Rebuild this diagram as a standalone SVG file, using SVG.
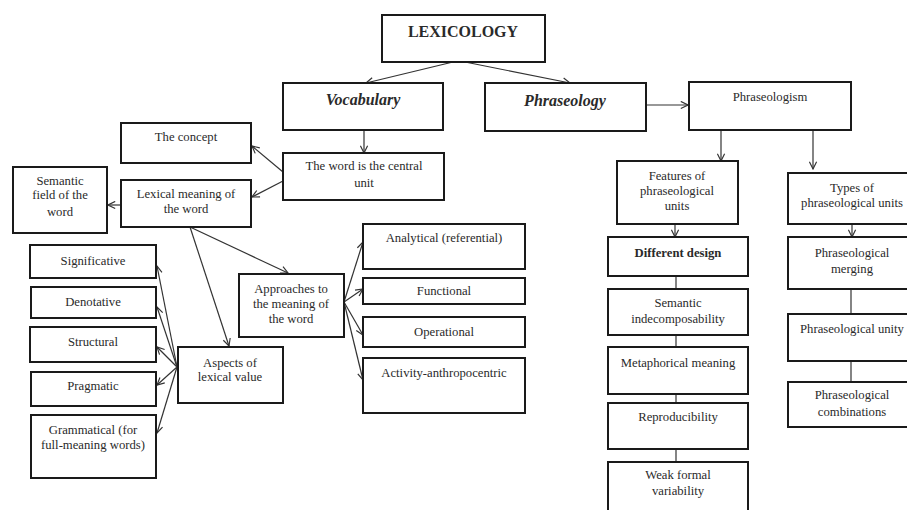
<svg xmlns="http://www.w3.org/2000/svg" width="907" height="510" viewBox="0 0 907 510">
<defs>
<style>
.b{fill:#fff;stroke:#1a1a1a;stroke-width:2}
text{font-family:"Liberation Serif","Times New Roman",serif;font-size:12.7px;fill:#2a2a2a;text-anchor:middle}
.t{font-size:16px;font-weight:bold}
.v{font-size:16px;font-weight:bold;font-style:italic}
.bd{font-weight:bold}
.c line{stroke:#333;stroke-width:1.2}
.a{marker-end:url(#ah)}
</style>
<marker id="ah" viewBox="0 0 10 10" refX="9" refY="5" markerWidth="9" markerHeight="9" markerUnits="userSpaceOnUse" orient="auto">
<path d="M1,1 L9,5 L1,9" fill="none" stroke="#333" stroke-width="1.3"/>
</marker>
</defs>
<rect width="907" height="510" fill="#fff"/>
<g class="c">
<line class="a" x1="453" y1="62" x2="366" y2="83"/>
<line class="a" x1="465" y1="62" x2="570" y2="83"/>
<line class="a" x1="364" y1="130" x2="364" y2="153"/>
<line class="a" x1="283" y1="172" x2="252" y2="146"/>
<line class="a" x1="283" y1="181" x2="252" y2="197"/>
<line class="a" x1="121" y1="205" x2="108" y2="205"/>
<line class="a" x1="190" y1="227" x2="288" y2="273"/>
<line class="a" x1="190" y1="227" x2="229" y2="346"/>
<line class="a" x1="177" y1="367" x2="157" y2="266"/>
<line class="a" x1="177" y1="367" x2="157" y2="307"/>
<line class="a" x1="177" y1="367" x2="157" y2="347"/>
<line class="a" x1="177" y1="367" x2="157" y2="385"/>
<line class="a" x1="177" y1="367" x2="157" y2="433"/>
<line class="a" x1="344" y1="302" x2="363" y2="242"/>
<line class="a" x1="344" y1="302" x2="363" y2="289"/>
<line class="a" x1="344" y1="302" x2="363" y2="335"/>
<line class="a" x1="344" y1="302" x2="363" y2="380"/>
<line class="a" x1="646" y1="105" x2="688" y2="105"/>
<line class="a" x1="721" y1="130" x2="721" y2="161"/>
<line class="a" x1="813" y1="130" x2="813" y2="169"/>
<line class="a" x1="675" y1="224" x2="675" y2="237"/>
<line class="a" x1="852" y1="224" x2="852" y2="237"/>
<line x1="676" y1="276" x2="676" y2="289"/>
<line x1="676" y1="335" x2="676" y2="347"/>
<line x1="676" y1="394" x2="676" y2="403"/>
<line x1="676" y1="449" x2="676" y2="462"/>
<line x1="851" y1="289" x2="851" y2="314"/>
<line x1="851" y1="361" x2="851" y2="382"/>
</g>
<g id="lexicology"><rect class="b" x="382" y="15" width="163" height="47"/><text class="t" x="463" y="37">LEXICOLOGY</text></g>
<g id="vocabulary"><rect class="b" x="283" y="83" width="160" height="47"/><text class="v" x="363" y="105">Vocabulary</text></g>
<g id="phraseology"><rect class="b" x="485" y="83" width="161" height="48"/><text class="v" x="565" y="106">Phraseology</text></g>
<g id="phraseologism"><rect class="b" x="689" y="82" width="162" height="48"/><text x="770" y="101">Phraseologism</text></g>
<g id="word"><rect class="b" x="283" y="153" width="161" height="47"/><text x="364" y="170">The word is the central</text><text x="364" y="187">unit</text></g>
<g id="concept"><rect class="b" x="121" y="123" width="130" height="40"/><text x="186" y="141">The concept</text></g>
<g id="lexical-meaning"><rect class="b" x="121" y="180" width="130" height="47"/><text x="186" y="198">Lexical meaning of</text><text x="186" y="213">the word</text></g>
<g id="semantic-field"><rect class="b" x="13" y="167" width="94" height="66"/><text x="60" y="185">Semantic</text><text x="60" y="199">field of the</text><text x="60" y="216">word</text></g>
<g id="significative"><rect class="b" x="30" y="245" width="126" height="33"/><text x="93" y="265">Significative</text></g>
<g id="denotative"><rect class="b" x="31" y="287" width="125" height="31"/><text x="93" y="306">Denotative</text></g>
<g id="structural"><rect class="b" x="30" y="327" width="126" height="35"/><text x="93" y="346">Structural</text></g>
<g id="pragmatic"><rect class="b" x="31" y="372" width="125" height="34"/><text x="93" y="390">Pragmatic</text></g>
<g id="grammatical"><rect class="b" x="31" y="415" width="125" height="63"/><text x="93" y="434">Grammatical (for</text><text x="93" y="449">full-meaning words)</text></g>
<g id="aspects"><rect class="b" x="178" y="347" width="105" height="56"/><text x="230" y="367">Aspects of</text><text x="230" y="381">lexical value</text></g>
<g id="approaches"><rect class="b" x="239" y="274" width="105" height="63"/><text x="291" y="293">Approaches to</text><text x="291" y="308">the meaning of</text><text x="291" y="323">the word</text></g>
<g id="analytical"><rect class="b" x="363" y="224" width="162" height="45"/><text x="444" y="242">Analytical (referential)</text></g>
<g id="functional"><rect class="b" x="363" y="278" width="162" height="26"/><text x="444" y="295">Functional</text></g>
<g id="operational"><rect class="b" x="363" y="317" width="162" height="30"/><text x="444" y="336">Operational</text></g>
<g id="activity"><rect class="b" x="363" y="358" width="162" height="55"/><text x="444" y="377">Activity-anthropocentric</text></g>
<g id="features"><rect class="b" x="617" y="161" width="121" height="63"/><text x="677" y="180">Features of</text><text x="677" y="195">phraseological</text><text x="677" y="210">units</text></g>
<g id="types"><rect class="b" x="788" y="173" width="128" height="51"/><text x="852" y="192">Types of</text><text x="852" y="207">phraseological units</text></g>
<g id="different-design"><rect class="b" x="608" y="237" width="140" height="39"/><text class="bd" x="678" y="257">Different design</text></g>
<g id="semantic-indecomposability"><rect class="b" x="608" y="289" width="140" height="46"/><text x="678" y="307">Semantic</text><text x="678" y="323">indecomposability</text></g>
<g id="metaphorical"><rect class="b" x="608" y="347" width="140" height="47"/><text x="678" y="367">Metaphorical meaning</text></g>
<g id="reproducibility"><rect class="b" x="608" y="403" width="140" height="46"/><text x="678" y="421">Reproducibility</text></g>
<g id="weak-formal"><rect class="b" x="608" y="462" width="140" height="58"/><text x="678" y="479">Weak formal</text><text x="678" y="495">variability</text></g>
<g id="merging"><rect class="b" x="788" y="237" width="128" height="52"/><text x="852" y="257">Phraseological</text><text x="852" y="273">merging</text></g>
<g id="unity"><rect class="b" x="788" y="314" width="128" height="47"/><text x="852" y="333">Phraseological unity</text></g>
<g id="combinations"><rect class="b" x="788" y="382" width="128" height="45"/><text x="852" y="399">Phraseological</text><text x="852" y="416">combinations</text></g>
</svg>
